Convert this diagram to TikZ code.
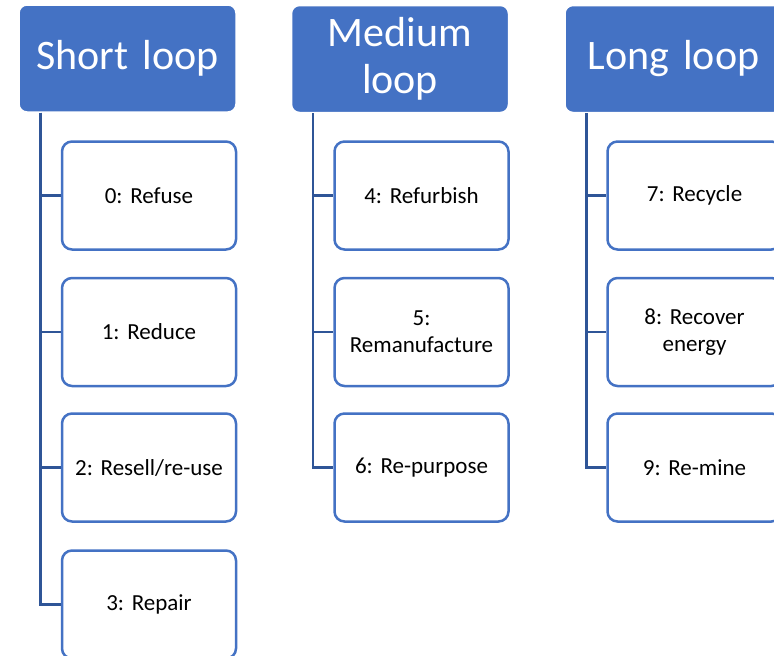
\documentclass[tikz,border=0pt]{standalone}
\usepackage{fontspec}
\setmainfont{Carlito}[WordSpace={0.75,0,0}]
\frenchspacing
\definecolor{hdrblue}{HTML}{4472C4}
\definecolor{linkblue}{HTML}{2F5597}
\begin{document}
\begin{tikzpicture}[x=1pt, y=-1pt,
  loophead/.style={rectangle, rounded corners=8pt, fill=hdrblue, draw=white, line width=1.5pt,
    minimum width=217pt, minimum height=107pt, text width=200pt, align=center,
    text=white, font=\fontsize{42}{47}\selectfont, inner sep=0pt},
  stepbox/.style={rectangle, rounded corners=10pt, fill=white, draw=hdrblue, line width=2.5pt,
    minimum width=174pt, minimum height=108pt, text width=160pt, align=center,
    font=\fontsize{23}{27}\selectfont, inner sep=0pt},
  link/.style={draw=linkblue, line width=2.5pt}]
\useasboundingbox (0,0) rectangle (774,656);
\clip (0,0) rectangle (774,656);
\node[loophead] (hshort) at (127.5,58.5){Short loop};
\node[loophead] (hmedium) at (400,59){Medium\\loop};
\node[loophead] (hlong) at (673.5,59){Long loop};
\node[stepbox] (c0) at (149,195.5){0: Refuse};
\node[stepbox] (c1) at (149,332){1: Reduce};
\node[stepbox] (c2) at (149,467.5){2: Resell/re-use};
\node[stepbox] (c3) at (149,604.5){3: Repair};
\node[stepbox] (c4) at (421.5,195.5){4: Refurbish};
\node[stepbox] (c5) at (421.5,332){5:\\Remanufacture};
\node[stepbox] (c6) at (421.5,467.5){6: Re-purpose};
\node[stepbox] (c7) at (694.5,195.5){7: Recycle};
\node[stepbox] (c8) at (694.5,332){8: Recover\\energy};
\node[stepbox] (c9) at (694.5,467.5){9: Re-mine};
\foreach \c in {c0,c1,c2,c3}
  \draw[link] (hshort.south west) ++(22,0) |- (\c.west);
\foreach \c in {c4,c5,c6}
  \draw[link] (hmedium.south west) ++(22,0) |- (\c.west);
\foreach \c in {c7,c8,c9}
  \draw[link] (hlong.south west) ++(22,0) |- (\c.west);
\end{tikzpicture}
\end{document}
